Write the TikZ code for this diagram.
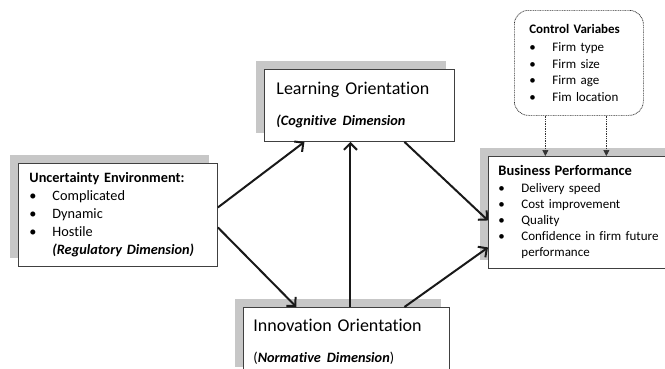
\documentclass[tikz,border=0pt]{standalone}
\usepackage{fontspec}
\setmainfont{Carlito}[Ligatures=NoCommon]
\usetikzlibrary{positioning, arrows.meta, shadows}

% bullet item with a fixed indent
\newcommand{\bul}[1]{\makebox[23pt][l]{\textbullet}#1}

\tikzset{
	box/.style={draw=black!75, line width=0.9pt, fill=white, anchor=north west,
		align=left, inner ysep=0pt,
		drop shadow={shadow xshift=-8pt, shadow yshift=8pt, fill=black!22, opacity=1}},
	ctrlbox/.style={draw=black!80, line width=0.7pt, dash pattern=on 1pt off 0.7pt,
		rounded corners=14pt, fill=white, anchor=north west, align=left, inner ysep=0pt},
	link/.style={draw=black!90, line width=2pt, -{Straight Barb[length=6.5pt,width=13pt]}},
	ctrllink/.style={draw=black!80, line width=0.7pt, dash pattern=on 1pt off 0.7pt,
		-{Triangle[length=6pt,width=6pt]}}
}

\begin{document}
\begin{tikzpicture}[x=1pt, y=-1pt]
	\useasboundingbox (0,0) rectangle (665,368);
	\clip (0,0) rectangle (665,368);

	\node[box, text width=177pt, inner xsep=11pt, minimum height=103pt,
		font=\fontsize{14.3}{18}\selectfont] (unc) at (18,163) {%
		\textbf{Uncertainty Environment:}\\
		\bul{Complicated}\\
		\bul{Dynamic}\\
		\bul{Hostile}\\
		\hspace*{23pt}\textbf{\textit{(Regulatory Dimension)}}};

	\node[box, text width=166pt, inner xsep=12pt, minimum height=72pt,
		font=\fontsize{18}{22}\selectfont] (learn) at (264,69) {%
		Learning Orientation\\[9pt]
		{\fontsize{14.3}{18}\selectfont\textbf{\textit{(Cognitive Dimension}}}};

	\node[box, text width=186pt, inner xsep=10pt, minimum height=68pt,
		font=\fontsize{18}{22}\selectfont] (innov) at (243,307) {%
		Innovation Orientation\\[9pt]
		{\fontsize{14.3}{18}\selectfont(\textbf{\textit{Normative Dimension}})}};

	\node[box, text width=165pt, inner xsep=10pt, minimum height=112pt,
		font=\fontsize{13}{16}\selectfont] (perf) at (488,156) {%
		{\fontsize{14.5}{16}\selectfont\textbf{Business Performance}}\\[1pt]
		\bul{Delivery speed}\\
		\bul{Cost improvement}\\
		\bul{Quality}\\
		\bul{Confidence in firm future}\\
		\hspace*{23pt}performance};

	\node[ctrlbox, text width=99pt, inner xsep=15pt, minimum height=105pt,
		font=\fontsize{13}{16.5}\selectfont] (ctrl) at (514,10) {%
		\textbf{Control Variabes}\\[2pt]
		\bul{Firm type}\\
		\bul{Firm size}\\
		\bul{Firm age}\\
		\bul{Fim location}};

	\draw[link] ([yshift=7.5pt]unc.east) -- ([xshift=-55pt]learn.south);
	\draw[link] ([yshift=-12.5pt]unc.east) -- ([xshift=-50pt]innov.north);
	\draw[link] ([xshift=4pt]innov.north) -- ([xshift=-9pt]learn.south);
	\draw[link] ([xshift=45pt]learn.south) -- ([yshift=-8pt]perf.west);
	\draw[link] ([xshift=58pt]innov.north) -- ([yshift=-35pt]perf.west);

	\draw[ctrllink] ([xshift=-33.5pt]ctrl.south) -- ([xshift=-33.5pt]ctrl.south |- perf.north);
	\draw[ctrllink] ([xshift=27.5pt]ctrl.south) -- ([xshift=27.5pt]ctrl.south |- perf.north);
\end{tikzpicture}
\end{document}
